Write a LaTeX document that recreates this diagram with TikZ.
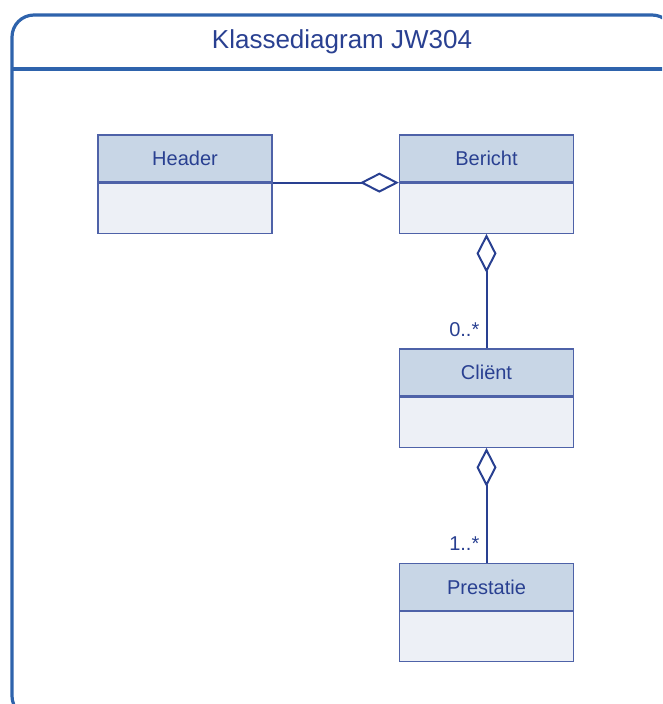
\documentclass[tikz,border=0pt]{standalone}
\usepackage{fontspec}
\setmainfont{Liberation Sans}
\usetikzlibrary{positioning,arrows.meta}
\definecolor{FrameBlue}{RGB}{46,99,172}
\definecolor{InkBlue}{RGB}{41,64,145}
\definecolor{BoxBlue}{RGB}{78,98,168}
\definecolor{HeadFill}{RGB}{200,214,230}
\definecolor{BodyFill}{RGB}{237,240,246}
\tikzset{
  frame/.style={draw=FrameBlue, line width=3.2pt},
  classname/.style={draw=BoxBlue, fill=HeadFill, line width=1.3pt, text=InkBlue,
    minimum width=174pt, minimum height=47pt, inner sep=0pt, font=\fontsize{20}{24}\selectfont},
  classbody/.style={draw=BoxBlue, fill=BodyFill, line width=1.3pt,
    minimum width=174pt, minimum height=50pt, inner sep=0pt},
  assoc/.style={draw=InkBlue, line width=2pt},
  aggr/.style={-{Diamond[open, length=39pt, width=20pt, line join=miter]}},
  mult/.style={text=InkBlue, inner sep=0pt, font=\fontsize{20}{24}\selectfont},
}

\begin{document}
\begin{tikzpicture}[x=1pt, y=-1pt]
  \useasboundingbox (0,0) rectangle (662,704);
  \clip (0,0) rectangle (662,704);

  % --- frame with title ---
  \draw[frame, rounded corners=22pt] (12,15) rectangle (674,718);
  \draw[frame] (12,69) -- (674,69);
  \node[text=InkBlue, font=\fontsize{26}{30}\selectfont] (title) at (342,42) {Klassediagram JW304};

  % --- classes ---
  \node[classname] (header) at (185,158.5) {Header};
  \node[classbody, below=0pt of header] (headerbody) {};

  \node[classname] (bericht) at (486.5,158.5) {Bericht};
  \node[classbody, below=0pt of bericht] (berichtbody) {};

  \node[classname] (client) at (486.5,372.5) {Cliënt};
  \node[classbody, below=0pt of client] (clientbody) {};

  \node[classname] (prestatie) at (486.5,587) {Prestatie};
  \node[classbody, below=0pt of prestatie] (prestatiebody) {};

  % --- aggregations (diamond at the whole) ---
  \draw[assoc, aggr] (header.south east) -- (bericht.south west);
  \draw[assoc, aggr] (client.north) -- (berichtbody.south);
  \draw[assoc, aggr] (prestatie.north) -- (clientbody.south);

  % multiplicities
  \node[mult, anchor=base east] (m1) at ([xshift=-7pt, yshift=12pt]client.north) {0..*};
  \node[mult, anchor=base east] (m2) at ([xshift=-7pt, yshift=12pt]prestatie.north) {1..*};

\end{tikzpicture}
\end{document}
